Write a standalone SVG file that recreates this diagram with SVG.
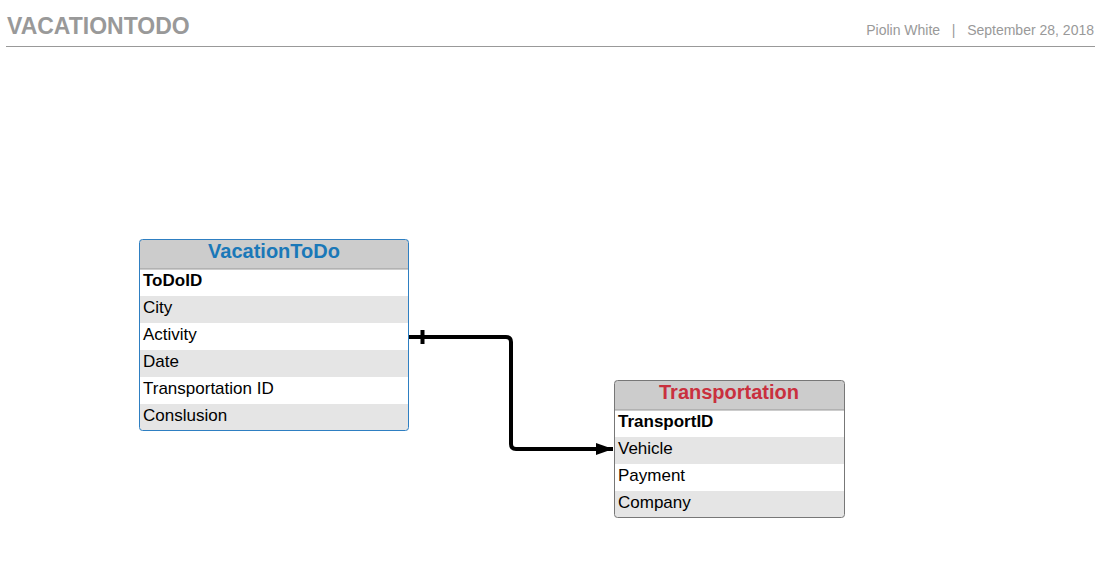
<svg xmlns="http://www.w3.org/2000/svg" width="1105" height="562" viewBox="0 0 1105 562">
<defs>
<style>
.t{font-family:"Liberation Sans",Arial,sans-serif}
.hdr{font-size:20px;font-weight:bold;text-anchor:middle}
.row{font-size:17px;fill:#000}
.pk{font-weight:bold}
.alt{fill:#e5e5e5}
.head{fill:#cccccc}
</style>
<marker id="arr" markerWidth="18" markerHeight="14" refX="17" refY="7" orient="auto" markerUnits="userSpaceOnUse" viewBox="0 0 18 14">
<path d="M0,1 L17,7 L0,13 Z" fill="#000"/>
</marker>
</defs>
<rect width="1105" height="562" fill="#fff"/>
<g id="header">
<text class="t" x="7" y="34" font-size="23" font-weight="bold" fill="#999">VACATIONTODO</text>
<text class="t" x="1094" y="35" font-size="14" fill="#999" text-anchor="end" xml:space="preserve">Piolin White   |   September 28, 2018</text>
<line x1="6" y1="46.5" x2="1095" y2="46.5" stroke="#999" stroke-width="1"/>
</g>
<g id="connectors">
<path d="M409,337 H506 Q511,337 511,342 V444 Q511,449 516,449 H613" fill="none" stroke="#000" stroke-width="4" marker-end="url(#arr)"/>
<line x1="422.5" y1="330" x2="422.5" y2="344" stroke="#000" stroke-width="4"/>
</g>
<g id="VacationToDo">
<rect x="139.5" y="239.5" width="269" height="191" rx="3" fill="#fff"/>
<rect x="140" y="240" width="268" height="29" class="head"/>
<rect x="140" y="296" width="268" height="27" class="alt"/>
<rect x="140" y="350" width="268" height="27" class="alt"/>
<rect x="140" y="404" width="268" height="26" class="alt"/>
<line x1="140" y1="269" x2="408" y2="269" stroke="#999" stroke-width="1"/>
<rect x="139.5" y="239.5" width="269" height="191" rx="3" fill="none" stroke="#2e7fc2" stroke-width="1"/>
<text class="t hdr" x="274" y="258" fill="#1a78b8">VacationToDo</text>
<text class="t row pk" x="143" y="286">ToDoID</text>
<text class="t row" x="143" y="313">City</text>
<text class="t row" x="143" y="340">Activity</text>
<text class="t row" x="143" y="367">Date</text>
<text class="t row" x="143" y="394">Transportation ID</text>
<text class="t row" x="143" y="421">Conslusion</text>
</g>
<g id="Transportation">
<rect x="614.5" y="380.5" width="230" height="137" rx="3" fill="#fff"/>
<rect x="615" y="381" width="229" height="29" class="head"/>
<rect x="615" y="437" width="229" height="27" class="alt"/>
<rect x="615" y="491" width="229" height="26" class="alt"/>
<line x1="615" y1="410" x2="844" y2="410" stroke="#999" stroke-width="1"/>
<rect x="614.5" y="380.5" width="230" height="137" rx="3" fill="none" stroke="#777" stroke-width="1"/>
<text class="t hdr" x="729" y="399" fill="#c9303e">Transportation</text>
<text class="t row pk" x="618" y="427">TransportID</text>
<text class="t row" x="618" y="454">Vehicle</text>
<text class="t row" x="618" y="481">Payment</text>
<text class="t row" x="618" y="508">Company</text>
</g>
</svg>
